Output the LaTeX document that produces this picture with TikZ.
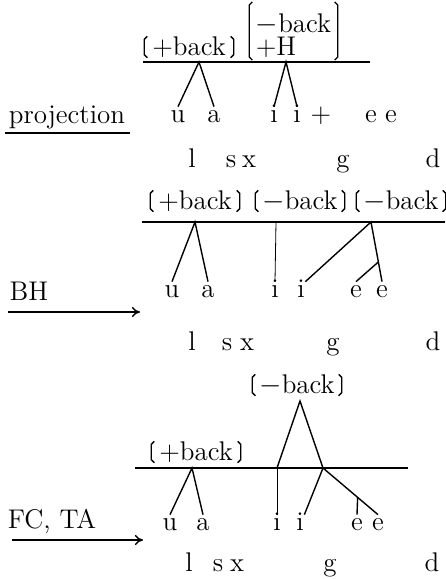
\documentclass[tikz,border=0pt]{standalone}
\usetikzlibrary{arrows.meta, calc}
% half-round feature brackets round a node
\newcommand\tortoise[2][0]{%
  \draw[bracket] ($(#2.north west)+(3,-#1)$) -- ++(-3,3) -- ($(#2.south west)+(0,-3)$) -- ++(3,3);
  \draw[bracket] ($(#2.north east)+(-3,-#1)$) -- ++(3,3) -- ($(#2.south east)+(0,-3)$) -- ++(-3,3);
}
\tikzset{
  every picture/.style={line width=0.7pt},
  tier/.style={line width=0.8pt},
  assoc/.style={line width=0.7pt},
  bracket/.style={line width=0.65pt},
  seg/.style={anchor=base, inner sep=0pt, text height=1.7ex, text depth=0pt},
  featbox/.style={inner xsep=2pt, inner ysep=1pt},
  feat/.style={featbox, anchor=base, minimum width=44pt, text height=0.8em, text depth=0pt},
  featstack/.style={featbox, align=left, minimum width=43.5pt, font=\fontsize{13.5}{11.5}\selectfont},
  rulelabel/.style={anchor=base},
  derive/.style={-{To[length=4pt, width=5pt]}, line width=0.7pt},
}
\begin{document}
\begin{tikzpicture}[x=0.5pt, y=-0.5pt, every node/.append style={font=\fontsize{13.5}{15}\selectfont}]
  \useasboundingbox (0,0) rectangle (445,579);

  % projection
  \node[rulelabel] (lproj) at (67,123) {projection};
  \coordinate (u1w) at (5,133); \coordinate (u1e) at (130,133);
  \draw[tier] (u1w) -- (u1e);
  \foreach \n/\t/\x in {u/u/178, a/a/214, i/i/274, j/i/297, plus/+/321, e/e/371, f/e/391}
    \node[seg] (p1\n) at (\x,122) {\t};
  \foreach \n/\x in {l/192, s/231, x/249, g/343, d/433}
    \node[seg] (p1\n) at (\x,167) {\n};
  \coordinate (t1w) at (143,62); \coordinate (t1e) at (370,62);
  \draw[tier] (t1w) -- (t1e);
  \node[feat] (f1a) at (189,55) {+back};
  \node[featstack] (f1b) at (293.5,35.5) {$-$back\\+H};
  \tortoise{f1a} \tortoise[9]{f1b}
  \coordinate (k1a) at (199,62); \coordinate (k1b) at (286,62);
  \draw[assoc] (p1u.north) -- (k1a) -- (p1a.north);
  \draw[assoc] (p1i.north) -- (k1b) -- (p1j.north);

  % BH
  \node[rulelabel] (lbh) at (29,300) {BH};
  \coordinate (a2w) at (8,312); \coordinate (a2e) at (140,312);
  \draw[derive] (a2w) -- (a2e);
  \foreach \n/\t/\x in {u/u/172, a/a/208, i/i/275, j/i/301, e/e/356, f/e/382}
    \node[seg] (p2\n) at (\x,297) {\t};
  \foreach \n/\x in {l/192, s/227, x/247, g/333, d/433}
    \node[seg] (p2\n) at (\x,350) {\n};
  \coordinate (t2w) at (142,222); \coordinate (t2e) at (445,222);
  \draw[tier] (t2w) -- (t2e);
  \node[feat] (f2a) at (195,209) {+back};
  \node[feat] (f2b) at (300,209) {$-$back};
  \node[feat] (f2c) at (401,209) {$-$back};
  \tortoise{f2a} \tortoise{f2b} \tortoise{f2c}
  \coordinate (k2a) at (195,222); \coordinate (k2b) at (276,222); \coordinate (k2c) at (371,222);
  \draw[assoc] (p2u.north) -- (k2a) -- (p2a.north);
  \draw[assoc, thin] (k2b) -- (p2i.north);
  \draw[assoc] (p2j.north east) -- (k2c) -- (p2f.north);
  \coordinate (m2) at ($(k2c)!0.67!(p2f.north)$);
  \draw[assoc] (m2) -- (p2e.north);

  % FC, TA
  \node[rulelabel] (lfc) at (52,528) {FC, TA};
  \coordinate (a3w) at (12,540); \coordinate (a3e) at (143,540);
  \draw[derive] (a3w) -- (a3e);
  \foreach \n/\t/\x in {u/u/170, a/a/203, i/i/277, j/i/300, e/e/357, f/e/378}
    \node[seg] (p3\n) at (\x,530) {\t};
  \foreach \n/\x in {l/189, s/218, x/237, g/330, d/432}
    \node[seg] (p3\n) at (\x,571) {\n};
  \coordinate (t3w) at (135,468); \coordinate (t3e) at (408,468);
  \draw[tier] (t3w) -- (t3e);
  \node[feat] (f3a) at (297,393) {$-$back};
  \node[feat] (f3b) at (196,460) {+back};
  \tortoise{f3a} \tortoise{f3b}
  \coordinate (k3top) at (300,401);
  \coordinate (k3a) at (192,468); \coordinate (k3b) at (277,468); \coordinate (k3c) at (323,468);
  \draw[assoc] (k3b) -- (k3top) -- (k3c);
  \draw[assoc] (p3u.north) -- (k3a) -- (p3a.north);
  \draw[assoc, thin] (k3b) -- (p3i.north);
  \draw[assoc] (k3c) -- (p3j.north east);
  \draw[assoc] (k3c) -- (p3f.north);
  \coordinate (m3) at ($(k3c)!0.63!(p3f.north)$);
  \draw[assoc] (m3) -- (p3e.north);
\end{tikzpicture}
\end{document}
